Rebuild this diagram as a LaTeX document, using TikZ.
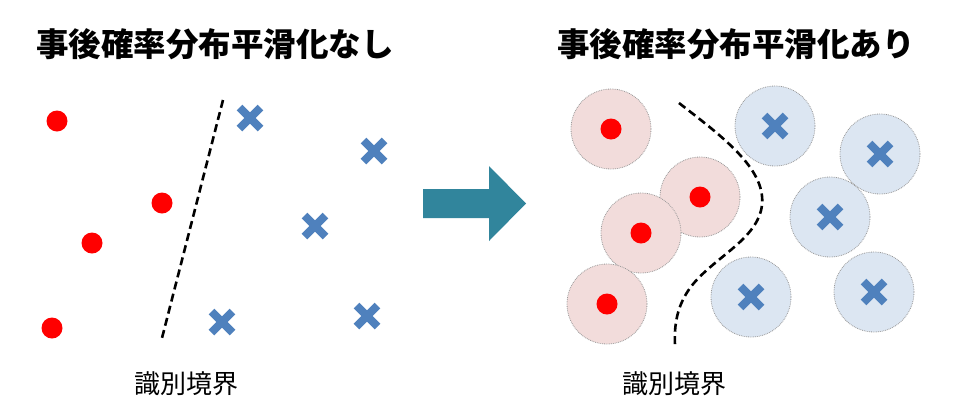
\documentclass[tikz,border=0pt]{standalone}
\usepackage{fontspec}
\newfontfamily\cjk{Noto Sans CJK JP}
\usetikzlibrary{shapes.misc}
\definecolor{crossblue}{HTML}{4F81BD}
\definecolor{pinkfill}{HTML}{F2DCDB}
\definecolor{bluefill}{HTML}{DCE6F2}
\definecolor{arrowteal}{HTML}{31859C}
\tikzset{
  title/.style={font=\cjk\bfseries\fontsize{32.5}{34}\selectfont, inner sep=0pt},
  label/.style={font=\cjk\fontsize{26}{28}\selectfont, inner sep=0pt},
  reddot/.style={circle, fill=red, minimum size=21pt, inner sep=0pt},
  xmark/.style={cross out, draw=crossblue, line width=8pt, minimum size=13pt, inner sep=0pt},
  pinkcirc/.style={circle, fill=pinkfill, draw=gray!80, line width=0.8pt, densely dotted, minimum size=80pt, inner sep=0pt},
  bluecirc/.style={circle, fill=bluefill, draw=gray!80, line width=0.8pt, densely dotted, minimum size=80pt, inner sep=0pt},
  boundary/.style={line width=2.6pt, dash pattern=on 8pt off 4.5pt},
}
\begin{document}
\begin{tikzpicture}[x=1pt, y=-1pt]
\useasboundingbox[fill=white] (0,0) rectangle (960,416);
% titles
\node[title] (t1) at (215,44) {事後確率分布平滑化なし};
\node[title] (t2) at (736,44) {事後確率分布平滑化あり};
% left panel
\node[reddot] (r1) at (57,121) {};
\node[reddot] (r2) at (162,203) {};
\node[reddot] (r3) at (92,243) {};
\node[reddot] (r4) at (52,328) {};
\node[xmark] (b1) at (250,118) {};
\node[xmark] (b2) at (374,151) {};
\node[xmark] (b3) at (315,226) {};
\node[xmark] (b4) at (222,322) {};
\node[xmark] (b5) at (367,316) {};
\coordinate (lt) at (223,100);
\coordinate (lb) at (162,338);
\draw[boundary] (lt) -- (lb);
\node[label] (l1) at (186,384) {識別境界};
% arrow
\fill[arrowteal] (423,189) -- (489,189) -- (489,166) -- (526,203.5) -- (489,241) -- (489,218) -- (423,218) -- cycle;
% right panel
\node[pinkcirc] (pc1) at (611,129) {};
\node[pinkcirc] (pc2) at (700,197) {};
\node[pinkcirc] (pc3) at (641,233) {};
\node[pinkcirc] (pc4) at (607,304) {};
\node[reddot] (rr1) at (pc1) {};
\node[reddot] (rr2) at (pc2) {};
\node[reddot] (rr3) at (pc3) {};
\node[reddot] (rr4) at (pc4) {};
\node[bluecirc] (bc1) at (775,126) {};
\node[bluecirc] (bc2) at (880,154) {};
\node[bluecirc] (bc3) at (830,217) {};
\node[bluecirc] (bc4) at (751,297) {};
\node[bluecirc] (bc5) at (874,292) {};
\node[xmark] (bx1) at (bc1) {};
\node[xmark] (bx2) at (bc2) {};
\node[xmark] (bx3) at (bc3) {};
\node[xmark] (bx4) at (bc4) {};
\node[xmark] (bx5) at (bc5) {};
\coordinate (ct) at (679,103);
\coordinate (cm) at (762,205);
\coordinate (cl) at (690,288);
\coordinate (cb) at (675,345);
\draw[boundary] (ct) .. controls (720,135) and (766,168) .. (cm)
  .. controls (758,240) and (712,258) .. (cl)
  .. controls (677,306) and (674,325) .. (cb);
\node[label] (l2) at (674,384) {識別境界};
\end{tikzpicture}
\end{document}
